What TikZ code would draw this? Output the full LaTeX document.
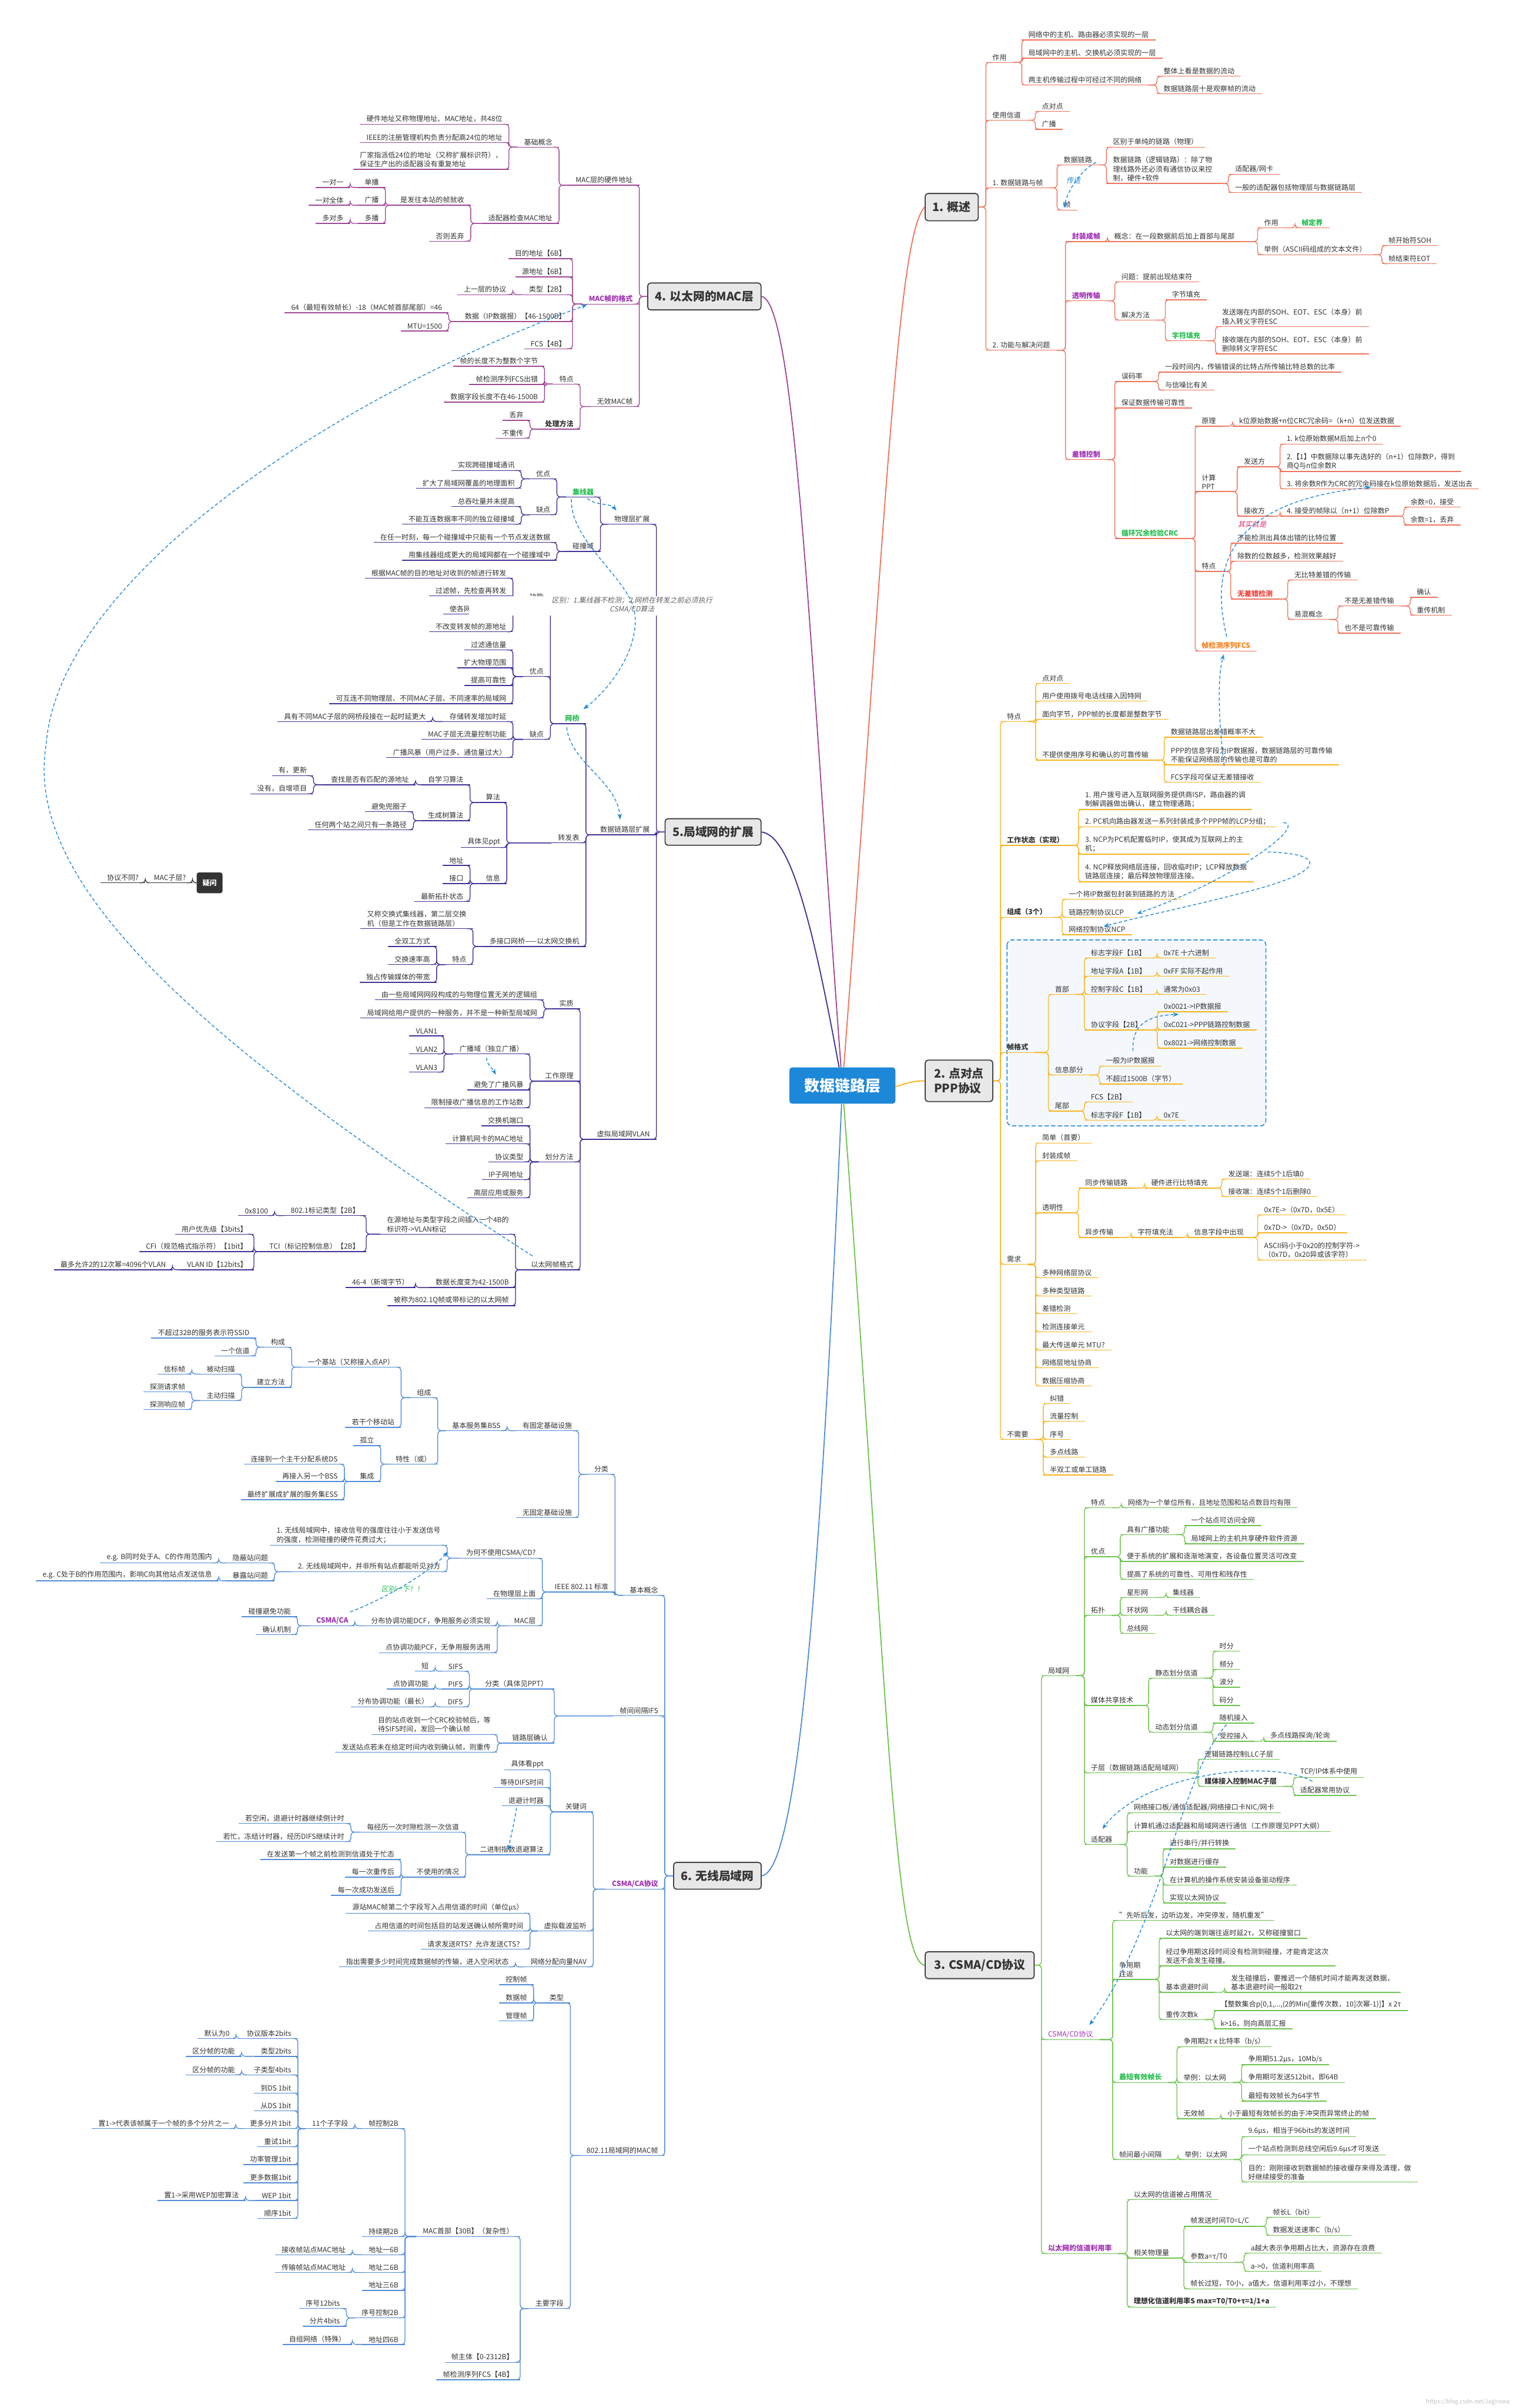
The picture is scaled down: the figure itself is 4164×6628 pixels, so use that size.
\documentclass[tikz,border=0pt]{standalone}
\usepackage{fontspec}
\setmainfont{Noto Sans CJK SC}
\newfontfamily\slfont{Noto Sans CJK SC}[FakeSlant=0.2]
\usetikzlibrary{arrows.meta}
\pgfdeclarelayer{bg}
\pgfsetlayers{bg,main}
\definecolor{tc}{RGB}{51,51,51}
\definecolor{s1}{RGB}{240,115,90}
\definecolor{s2}{RGB}{250,180,30}
\definecolor{s3}{RGB}{110,195,80}
\definecolor{s4}{RGB}{160,70,150}
\definecolor{s5}{RGB}{60,50,150}
\definecolor{s6}{RGB}{80,140,215}
\definecolor{cpur}{RGB}{160,50,180}
\definecolor{cgrn}{RGB}{40,190,80}
\definecolor{cred}{RGB}{240,70,60}
\definecolor{corg}{RGB}{245,130,30}
\definecolor{cblue}{RGB}{30,136,216}
\definecolor{cpink}{RGB}{214,51,108}
\definecolor{cgray}{RGB}{100,100,100}
\definecolor{boxd}{RGB}{68,68,68}
\definecolor{boxf}{RGB}{232,232,232}
\definecolor{pbg}{RGB}{244,248,253}
\colorlet{sc}{tc}
\newcommand\leaffont{\fontsize{19.5}{25}\selectfont}
\newcommand\secfont{\fontsize{32}{40}\selectfont\bfseries}
\newcommand\ctrfont{\fontsize{42}{50}\selectfont\bfseries}
\newcommand\RNd[6][]{\node[rn,#1] (#2) at (#4,#5) {#6};\draw[ul] (#2.south west) -- (#2.south east);\draw[cn] (#3.south east) -- (#3.south east -| #2.south west) |- ([xshift=16pt]#2.south west);}
\newcommand\LNd[6][]{\node[lnd,#1] (#2) at (#4,#5) {#6};\draw[ul] (#2.south west) -- (#2.south east);\draw[cn] (#3.south west) -- (#3.south west -| #2.south east) |- ([xshift=-16pt]#2.south east);}
\begin{document}
\begin{tikzpicture}[x=1pt,y=-1pt,
 rn/.style={anchor=south west,inner xsep=18pt,inner ysep=5pt,font=\leaffont,text=tc,align=left},
 lnd/.style={anchor=south east,inner xsep=18pt,inner ysep=5pt,font=\leaffont,text=tc,align=left},
 ul/.style={draw=sc,line width=2.2pt},
 cn/.style={draw=sc,line width=2.2pt,rounded corners=10pt},
 bfs/.style={font=\leaffont\bfseries},
 pur/.style={font=\leaffont\bfseries,text=cpur},
 purn/.style={text=cpur},
 grn/.style={font=\leaffont\bfseries,text=cgrn},
 rdb/.style={font=\leaffont\bfseries,text=cred},
 orb/.style={font=\leaffont\bfseries,text=corg},
 secbox/.style={draw=boxd,fill=boxf,line width=3pt,rounded corners=8pt,font=\secfont,text=tc,align=left,inner sep=0pt},
 dsh/.style={draw=cblue,line width=2.2pt,dash pattern=on 9pt off 6pt,-{Stealth[length=16pt,width=12pt]}},
 dotn/.style={inner sep=0pt,minimum size=0pt,outer sep=0pt},
 lbl/.style={font={\slfont\leaffont},inner sep=2pt}
]
\useasboundingbox (0,0) rectangle (4164,6628);
\begin{pgfonlayer}{bg}
\fill[white] (0,0) rectangle (4164,6628);
\draw[draw=cblue,fill=pbg,line width=2.5pt,dash pattern=on 12pt off 6pt,rounded corners=15pt] (2772,2587) rectangle (3485,3099);
\end{pgfonlayer}

% ===== centre =====
\node[fill=cblue,text=white,font=\ctrfont,rounded corners=8pt,minimum width=292pt,minimum height=100pt] (ctr) at (2319,2988) {数据链路层};

% ===== Section 1 =====
\begin{scope}
\colorlet{sc}{s1}
\node[secbox,minimum width=146pt,minimum height=75pt] (b1) at (2620,570) {1. 概述};
\node[dotn] (b1p) at (b1.east) {};
\RNd{a1}{b1p}{2714}{172}{作用}
\RNd{a11}{a1}{2813}{110}{网络中的主机、路由器必须实现的一层}
\RNd{a12}{a1}{2813}{160}{局域网中的主机、交换机必须实现的一层}
\RNd{a13}{a1}{2813}{234}{两主机传输过程中可经过不同的网络}
\RNd{a131}{a13}{3185}{210}{整体上看是数据的流动}
\RNd{a132}{a13}{3185}{258}{数据链路层十是观察帧的流动}
\RNd{a2}{b1p}{2714}{331}{使用信道}
\RNd{a21}{a2}{2850}{307}{点对点}
\RNd{a22}{a2}{2850}{356}{广播}
\RNd{a3}{b1p}{2714}{517}{1. 数据链路与帧}
\RNd{a31}{a3}{2910}{454}{数据链路}
\RNd{a311}{a31}{3046}{405}{区别于单纯的链路（物理）}
\RNd{a312}{a31}{3046}{505}{数据链路（逻辑链路）：除了物\\理线路外还必须有通信协议来控\\制，硬件+软件}
\RNd{a3121}{a312}{3382}{480}{适配器/网卡}
\RNd{a3122}{a312}{3382}{530}{一般的适配器包括物理层与数据链路层}
\RNd{a32}{a3}{2910}{578}{帧}
\RNd{a4}{b1p}{2714}{964}{2. 功能与解决问题}
\RNd[pur]{a41}{a4}{2933}{665}{封装成帧}
\RNd{a411}{a41}{3049}{665}{概念：在一段数据前后加上首部与尾部}
\RNd{a4111}{a411}{3462}{627}{作用}
\RNd[grn]{a41111}{a4111}{3565}{627}{帧定界}
\RNd{a4112}{a411}{3462}{701}{举例（ASCII码组成的文本文件）}
\RNd{a41121}{a4112}{3804}{676}{帧开始符SOH}
\RNd{a41122}{a4112}{3804}{726}{帧结束符EOT}
\RNd[pur]{a42}{a4}{2933}{828}{透明传输}
\RNd{a421}{a42}{3069}{776}{问题：提前出现结束符}
\RNd{a422}{a42}{3069}{881}{解决方法}
\RNd{a4221}{a422}{3208}{825}{字节填充}
\RNd[grn]{a4222}{a422}{3208}{938}{字符填充}
\RNd{a42221}{a4222}{3346}{899}{发送端在内部的SOH、EOT、ESC（本身）前\\插入转义字符ESC}
\RNd{a42222}{a4222}{3346}{974}{接收端在内部的SOH、EOT、ESC（本身）前\\删除转义字符ESC}
\RNd[pur]{a43}{a4}{2933}{1265}{差错控制}
\RNd{a431}{a43}{3069}{1050}{误码率}
\RNd{a4311}{a431}{3189}{1024}{一段时间内，传输错误的比特占所传输比特总数的比率}
\RNd{a4312}{a431}{3189}{1074}{与信噪比有关}
\RNd{a432}{a43}{3069}{1123}{保证数据传输可靠性}
\RNd[grn]{a433}{a43}{3069}{1482}{循环冗余检验CRC}
\RNd{c1}{a433}{3290}{1173}{原理}
\RNd{c11}{c1}{3393}{1173}{k位原始数据+n位CRC冗余码=（k+n）位发送数据}
\RNd{c2}{a433}{3290}{1353}{计算\\PPT}
\RNd{c21}{c2}{3406}{1285}{发送方}
\RNd{c211}{c21}{3524}{1222}{1. k位原始数据M后加上n个0}
\RNd{c212}{c21}{3524}{1298}{2.【1】中数据除以事先选好的（n+1）位除数P，得到\\商Q与n位余数R}
\RNd{c213}{c21}{3524}{1346}{3. 将余数R作为CRC的冗余码接在k位原始数据后，发送出去}
\RNd{c22}{c2}{3406}{1421}{接收方}
\RNd{c221}{c22}{3524}{1421}{4. 接受的帧除以（n+1）位除数P}
\RNd{c2211}{c221}{3865}{1396}{余数=0，接受}
\RNd{c2212}{c221}{3865}{1445}{余数=1，丢弃}
\RNd{c3}{a433}{3290}{1573}{特点}
\RNd{c31}{c3}{3388}{1495}{不能检测出具体出错的比特位置}
\RNd{c32}{c3}{3388}{1545}{除数的位数越多，检测效果越好}
\RNd[rdb]{c33}{c3}{3388}{1649}{无差错检测}
\RNd{c331}{c33}{3545}{1596}{无比特差错的传输}
\RNd{c332}{c33}{3545}{1705}{易混概念}
\RNd{c3321}{c332}{3683}{1668}{不是无差错传输}
\RNd{c33211}{c3321}{3882}{1644}{确认}
\RNd{c33212}{c3321}{3882}{1693}{重传机制}
\RNd{c3322}{c332}{3683}{1743}{也不是可靠传输}
\RNd[orb]{c4}{a433}{3290}{1792}{帧检测序列FCS}
\end{scope}

% ===== Section 2 =====
\begin{scope}
\colorlet{sc}{s2}
\node[secbox,minimum width=186pt,minimum height=114pt] (b2) at (2640,2975) {2. 点对点\\PPP协议};
\node[dotn] (b2p) at (b2.east) {};
\RNd{p1}{b2p}{2754}{1986}{特点}
\RNd{p11}{p1}{2851}{1881}{点对点}
\RNd{p12}{p1}{2851}{1930}{用户使用拨号电话线接入因特网}
\RNd{p13}{p1}{2851}{1980}{面向字节，PPP帧的长度都是整数字节}
\RNd{p14}{p1}{2851}{2092}{不提供使用序号和确认的可靠传输}
\RNd{p141}{p14}{3205}{2029}{数据链路层出差错概率不大}
\RNd{p142}{p14}{3205}{2105}{PPP的信息字段为IP数据报，数据链路层的可靠传输\\不能保证网络层的传输也是可靠的}
\RNd{p143}{p14}{3205}{2153}{FCS字段可保证无差错接收}
\RNd[bfs]{p2}{b2p}{2754}{2327}{工作状态（实现）}
\RNd{p21}{p2}{2969}{2228}{1. 用户拨号进入互联网服务提供商ISP，路由器的调\\制解调器做出确认，建立物理通路；}
\RNd{p22}{p2}{2969}{2276}{2. PC机向路由器发送一系列封装成多个PPP帧的LCP分组；}
\RNd{p23}{p2}{2969}{2351}{3. NCP为PC机配置临时IP，使其成为互联网上的主\\机；}
\RNd{p24}{p2}{2969}{2427}{4. NCP释放网络层连接，回收临时IP；LCP释放数据\\链路层连接；最后释放物理层连接。}
\RNd[bfs]{p3}{b2p}{2754}{2525}{组成（3个）}
\RNd{p31}{p3}{2924}{2475}{一个将IP数据包封装到链路的方法}
\RNd{p32}{p3}{2924}{2525}{链路控制协议LCP}
\RNd{p33}{p3}{2924}{2573}{网络控制协议NCP}
\RNd[bfs]{p4}{b2p}{2754}{2897}{帧格式}
\RNd{p41}{p4}{2886}{2737}{首部}
\RNd{p411}{p41}{2985}{2637}{标志字段F【1B】}
\RNd{p4111}{p411}{3185}{2637}{0x7E 十六进制}
\RNd{p412}{p41}{2985}{2687}{地址字段A【1B】}
\RNd{p4121}{p412}{3185}{2687}{0xFF 实际不起作用}
\RNd{p413}{p41}{2985}{2737}{控制字段C【1B】}
\RNd{p4131}{p413}{3185}{2737}{通常为0x03}
\RNd{p414}{p41}{2985}{2835}{协议字段【2B】}
\RNd{p4141}{p414}{3186}{2785}{0x0021->IP数据报}
\RNd{p4142}{p414}{3186}{2835}{0xC021->PPP链路控制数据}
\RNd{p4143}{p414}{3186}{2885}{0x8021->网络控制数据}
\RNd{p42}{p4}{2886}{2959}{信息部分}
\RNd{p421}{p42}{3026}{2934}{一般为IP数据报}
\RNd{p422}{p42}{3026}{2984}{不超过1500B（字节）}
\RNd{p43}{p4}{2886}{3058}{尾部}
\RNd{p431}{p43}{2985}{3033}{FCS【2B】}
\RNd{p432}{p43}{2985}{3083}{标志字段F【1B】}
\RNd{p4321}{p432}{3185}{3083}{0x7E}
\RNd{p5}{b2p}{2754}{3480}{需求}
\RNd{p51}{p5}{2851}{3146}{简单（首要）}
\RNd{p52}{p5}{2851}{3195}{封装成帧}
\RNd{p53}{p5}{2851}{3338}{透明性}
\RNd{p531}{p53}{2969}{3270}{同步传输链路}
\RNd{p5311}{p531}{3151}{3270}{硬件进行比特填充}
\RNd{p53111}{p5311}{3363}{3245}{发送端：连续5个1后填0}
\RNd{p53112}{p5311}{3363}{3294}{接收端：连续5个1后删除0}
\RNd{p532}{p53}{2969}{3406}{异步传输}
\RNd{p5321}{p532}{3114}{3406}{字符填充法}
\RNd{p5322}{p5321}{3269}{3406}{信息字段中出现}
\RNd{p53221}{p5322}{3462}{3344}{0x7E->（0x7D，0x5E）}
\RNd{p53222}{p5322}{3462}{3393}{0x7D->（0x7D，0x5D）}
\RNd{p53223}{p5322}{3462}{3468}{ASCII码小于0x20的控制字符->\\（0x7D，0x20异或该字符）}
\RNd{p54}{p5}{2851}{3517}{多种网络层协议}
\RNd{p55}{p5}{2851}{3567}{多种类型链路}
\RNd{p56}{p5}{2851}{3616}{差错检测}
\RNd{p57}{p5}{2851}{3666}{检测连接单元}
\RNd{p58}{p5}{2851}{3716}{最大传送单元 MTU?}
\RNd{p59}{p5}{2851}{3765}{网络层地址协商}
\RNd{p5a}{p5}{2851}{3815}{数据压缩协商}
\RNd{p6}{b2p}{2754}{3962}{不需要}
\RNd{p61}{p6}{2872}{3863}{纠错}
\RNd{p62}{p6}{2872}{3912}{流量控制}
\RNd{p63}{p6}{2872}{3962}{序号}
\RNd{p64}{p6}{2872}{4011}{多点线路}
\RNd{p65}{p6}{2872}{4060}{半双工或单工链路}
\end{scope}

% ===== Section 3 =====
\begin{scope}
\colorlet{sc}{s3}
\node[secbox,minimum width=300pt,minimum height=74pt] (b3) at (2697,5409) {3. CSMA/CD协议};
\node[dotn] (b3p) at (b3.east) {};
\RNd{q1}{b3p}{2867}{4612}{局域网}
\RNd{q11}{q1}{2985}{4150}{特点}
\RNd{q111}{q11}{3087}{4150}{网络为一个单位所有，且地址范围和站点数目均有限}
\RNd{q12}{q1}{2985}{4285}{优点}
\RNd{q121}{q12}{3084}{4224}{具有广播功能}
\RNd{q1211}{q121}{3261}{4199}{一个站点可访问全网}
\RNd{q1212}{q121}{3261}{4249}{局域网上的主机共享硬件软件资源}
\RNd{q122}{q12}{3084}{4298}{便于系统的扩展和逐渐地演变，各设备位置灵活可改变}
\RNd{q123}{q12}{3084}{4347}{提高了系统的可靠性、可用性和残存性}
\RNd{q13}{q1}{2985}{4446}{拓扑}
\RNd{q131}{q13}{3084}{4397}{星形网}
\RNd{q1311}{q131}{3210}{4397}{集线器}
\RNd{q132}{q13}{3084}{4446}{环状网}
\RNd{q1321}{q132}{3210}{4446}{干线耦合器}
\RNd{q133}{q13}{3084}{4496}{总线网}
\RNd{q14}{q1}{2985}{4694}{媒体共享技术}
\RNd{q141}{q14}{3162}{4619}{静态划分信道}
\RNd{q1411}{q141}{3339}{4545}{时分}
\RNd{q1412}{q141}{3339}{4595}{频分}
\RNd{q1413}{q141}{3339}{4644}{波分}
\RNd{q1414}{q141}{3339}{4694}{码分}
\RNd{q142}{q14}{3162}{4768}{动态划分信道}
\RNd{q1421}{q142}{3339}{4743}{随机接入}
\RNd{q1422}{q142}{3339}{4793}{受控接入}
\RNd{q14221}{q1422}{3479}{4793}{多点线路探询/轮询}
\RNd{q15}{q1}{2985}{4880}{子层（数据链路适配局域网）}
\RNd{q151}{q15}{3298}{4842}{逻辑链路控制LLC子层}
\RNd[bfs]{q152}{q15}{3298}{4917}{媒体接入控制MAC子层}
\RNd{q1521}{q152}{3561}{4892}{TCP/IP体系中使用}
\RNd{q1522}{q152}{3561}{4942}{适配器常用协议}
\RNd{q16}{q1}{2985}{5077}{适配器}
\RNd{q161}{q16}{3103}{4990}{网络接口板/通信适配器/网络接口卡NIC/网卡}
\RNd{q162}{q16}{3103}{5041}{计算机通过适配器和局域网进行通信（工作原理见PPT大纲）}
\RNd{q163}{q16}{3103}{5164}{功能}
\RNd{q1631}{q163}{3202}{5089}{进行串行/并行转换}
\RNd{q1632}{q163}{3202}{5139}{对数据进行缓存}
\RNd{q1633}{q163}{3202}{5189}{在计算机的操作系统安装设备驱动程序}
\RNd{q1634}{q163}{3202}{5238}{实现以太网协议}
\RNd[purn]{q2}{b3p}{2867}{5614}{CSMA/CD协议}
\RNd{q21}{q2}{3063}{5286}{"先听后发，边听边发，冲突停发，随机重发"}
\RNd{q22}{q2}{3063}{5448}{争用期\\往返}
\RNd{q221}{q22}{3191}{5335}{以太网的端到端往返时延2τ，又称碰撞窗口}
\RNd{q222}{q22}{3191}{5411}{经过争用期这段时间没有检测到碰撞，才能肯定这次\\发送不会发生碰撞。}
\RNd{q223}{q22}{3191}{5484}{基本退避时间}
\RNd{q2231}{q223}{3371}{5484}{发生碰撞后，要推迟一个随机时间才能再发送数据，\\基本退避时间一般取2τ}
\RNd{q224}{q22}{3191}{5559}{重传次数k}
\RNd{q2241}{q224}{3342}{5534}{【整数集合p[0,1,...,(2的Min[重传次数，10]次幂-1)]】x 2τ}
\RNd{q2242}{q224}{3342}{5584}{k>16，则向高层汇报}
\RNd[grn]{q23}{q2}{3063}{5732}{最短有效帧长}
\RNd{q231}{q23}{3240}{5634}{争用期2τ x 比特率（b/s）}
\RNd{q232}{q23}{3240}{5732}{举例：以太网}
\RNd{q2321}{q232}{3418}{5683}{争用期51.2μs，10Mb/s}
\RNd{q2322}{q232}{3418}{5732}{争用期可发送512bit，即64B}
\RNd{q2323}{q232}{3418}{5783}{最短有效帧长为64字节}
\RNd{q233}{q23}{3240}{5832}{无效帧}
\RNd{q2331}{q233}{3361}{5832}{小于最短有效帧长的由于冲突而异常终止的帧}
\RNd{q24}{q2}{3063}{5944}{帧间最小间隔}
\RNd{q241}{q24}{3243}{5944}{举例：以太网}
\RNd{q2411}{q241}{3418}{5881}{9.6μs，相当于96bits的发送时间}
\RNd{q2412}{q241}{3418}{5931}{一个站点检测到总线空闲后9.6μs才可发送}
\RNd{q2413}{q241}{3418}{6006}{目的：刚刚接收到数据帧的接收缓存来得及清理，做\\好继续接受的准备}
\RNd[pur]{q3}{b3p}{2867}{6203}{以太网的信道利用率}
\RNd{q31}{q3}{3103}{6054}{以太网的信道被占用情况}
\RNd{q32}{q3}{3103}{6215}{相关物理量}
\RNd{q321}{q32}{3259}{6128}{帧发送时间T0=L/C}
\RNd{q3211}{q321}{3486}{6103}{帧长L（bit）}
\RNd{q3212}{q321}{3486}{6153}{数据发送速率C（b/s）}
\RNd{q322}{q32}{3259}{6227}{参数a=τ/T0}
\RNd{q3221}{q322}{3425}{6202}{a越大表示争用期占比大，资源存在浪费}
\RNd{q3222}{q322}{3425}{6252}{a->0，信道利用率高}
\RNd{q323}{q32}{3259}{6300}{帧长过短，T0小，a值大，信道利用率过小，不理想}
\RNd[bfs]{q33}{q3}{3103}{6350}{理想化信道利用率S max=T0/T0+τ=1/1+a}
\end{scope}

% ===== Section 4 =====
\begin{scope}
\colorlet{sc}{s4}
\node[secbox,minimum width=312pt,minimum height=74pt] (b4) at (1939,816) {4. 以太网的MAC层};
\node[dotn] (b4p) at (b4.west) {};
\LNd{m1}{b4p}{1760}{510}{MAC层的硬件地址}
\LNd{m11}{m1}{1539}{405}{基础概念}
\LNd{m111}{m11}{1401}{342}{硬件地址又称物理地址、MAC地址，共48位}
\LNd{m112}{m11}{1401}{392}{IEEE的注册管理机构负责分配高24位的地址}
\LNd{m113}{m11}{1401}{466}{厂家指派低24位的地址（又称扩展标识符），\\保证生产出的适配器没有重复地址}
\LNd{m12}{m1}{1539}{615}{适配器检查MAC地址}
\LNd{m121}{m12}{1296}{565}{是发往本站的帧就收}
\LNd{m1211}{m121}{1061}{516}{单播}
\LNd{m12111}{m1211}{964}{516}{一对一}
\LNd{m1212}{m121}{1061}{565}{广播}
\LNd{m12121}{m1212}{964}{565}{一对全体}
\LNd{m1213}{m121}{1061}{615}{多播}
\LNd{m12131}{m1213}{964}{615}{多对多}
\LNd{m122}{m12}{1296}{664}{否则丢弃}
\LNd[pur]{m2}{b4p}{1760}{837}{MAC帧的格式}
\LNd{m21}{m2}{1576}{712}{目的地址【6B】}
\LNd{m22}{m2}{1576}{762}{源地址【6B】}
\LNd{m23}{m2}{1576}{811}{类型【2B】}
\LNd{m231}{m23}{1412}{811}{上一层的协议}
\LNd{m24}{m2}{1576}{885}{数据（IP数据报）【46-1500B】}
\LNd{m241}{m24}{1235}{861}{64（最短有效帧长）-18（MAC帧首部尾部）=46}
\LNd{m242}{m24}{1235}{911}{MTU=1500}
\LNd{m25}{m2}{1576}{960}{FCS【4B】}
\LNd{m3}{b4p}{1760}{1119}{无效MAC帧}
\LNd{m31}{m3}{1597}{1057}{特点}
\LNd{m311}{m31}{1499}{1008}{帧的长度不为整数个字节}
\LNd{m312}{m31}{1499}{1058}{帧检测序列FCS出错}
\LNd{m313}{m31}{1499}{1107}{数据字段长度不在46-1500B}
\LNd[bfs]{m32}{m3}{1597}{1181}{处理方法}
\LNd{m321}{m32}{1459}{1157}{丢弃}
\LNd{m322}{m32}{1459}{1206}{不重传}
\end{scope}

% ===== question box =====
\begin{scope}
\colorlet{sc}{tc}
\node[fill=tc,text=white,font=\leaffont\bfseries,rounded corners=6pt,minimum width=71pt,minimum height=57pt,inner sep=2pt] (yw) at (577,2430) {疑问};
\node[dotn] (ywp) at (yw.west) {};
\LNd{yw1}{ywp}{530}{2430}{MAC子层?}
\LNd{yw2}{yw1}{400}{2430}{协议不同?}
\end{scope}

% ===== Section 5 =====
\begin{scope}
\colorlet{sc}{s5}
\node[secbox,minimum width=264pt,minimum height=73pt] (b5) at (1963,2290) {5.局域网的扩展};
\node[dotn] (b5p) at (b5.west) {};
\LNd{n1}{b5p}{1807}{1443}{物理层扩展}
\LNd[grn]{n11}{n1}{1653}{1368}{集线器}
\LNd{n111}{n11}{1533}{1318}{优点}
\LNd{n1111}{n111}{1435}{1295}{实现跨碰撞域通讯}
\LNd{n1112}{n111}{1435}{1344}{扩大了局域网覆盖的地理面积}
\LNd{n112}{n11}{1533}{1417}{缺点}
\LNd{n1121}{n112}{1435}{1394}{总吞吐量并未提高}
\LNd{n1122}{n112}{1435}{1443}{不能互连数据率不同的独立碰撞域}
\LNd{n12}{n1}{1653}{1518}{碰撞域}
\LNd{n121}{n12}{1533}{1493}{在任一时刻，每一个碰撞域中只能有一个节点发送数据}
\LNd{n122}{n12}{1533}{1542}{用集线器组成更大的局域网都在一个碰撞域中}
\LNd{n2}{b5p}{1807}{2298}{数据链路层扩展}
\LNd[grn]{n21}{n2}{1613}{1992}{网桥}
\LNd{n211}{n21}{1515}{1656}{功能}
\LNd{n2111}{n211}{1412}{1591}{根据MAC帧的目的地址对收到的帧进行转发}
\LNd{n2112}{n211}{1412}{1640}{过滤帧，先检查再转发}
\LNd{n2113}{n211}{1412}{1690}{使各网段成为隔离}
\LNd{n2114}{n211}{1412}{1739}{不改变转发帧的源地址}
\LNd{n212}{n21}{1515}{1862}{优点}
\LNd{n2121}{n212}{1412}{1789}{过滤通信量}
\LNd{n2122}{n212}{1412}{1838}{扩大物理范围}
\LNd{n2123}{n212}{1412}{1887}{提高可靠性}
\LNd{n2124}{n212}{1412}{1937}{可互连不同物理层、不同MAC子层、不同速率的局域网}
\LNd{n213}{n21}{1515}{2035}{缺点}
\LNd{n2131}{n213}{1412}{1986}{存储转发增加时延}
\LNd{n21311}{n2131}{1191}{1986}{具有不同MAC子层的网桥段接在一起时延更大}
\LNd{n2132}{n213}{1412}{2035}{MAC子层无流量控制功能}
\LNd{n2133}{n213}{1412}{2085}{广播风暴（用户过多、通信量过大）}
\LNd{n22}{n2}{1613}{2320}{转发表}
\LNd{n221}{n22}{1395}{2209}{算法}
\LNd{n2211}{n221}{1294}{2160}{自学习算法}
\LNd{n22111}{n2211}{1144}{2160}{查找是否有匹配的源地址}
\LNd{n221111}{n22111}{863}{2135}{有，更新}
\LNd{n221112}{n22111}{863}{2185}{没有，自增项目}
\LNd{n2212}{n221}{1294}{2259}{生成树算法}
\LNd{n22121}{n2212}{1138}{2234}{避免兜圈子}
\LNd{n22122}{n2212}{1138}{2284}{任何两个站之间只有一条路径}
\LNd{n222}{n22}{1395}{2333}{具体见ppt}
\LNd{n223}{n22}{1395}{2432}{信息}
\LNd{n2231}{n223}{1294}{2382}{地址}
\LNd{n2232}{n223}{1294}{2432}{接口}
\LNd{n2233}{n223}{1294}{2481}{最新拓扑状态}
\LNd{n23}{n2}{1613}{2605}{多接口网桥——以太网交换机}
\LNd{n231}{n23}{1302}{2556}{又称交换式集线器，第二层交换\\机（但是工作在数据链路层）}
\LNd{n232}{n23}{1302}{2655}{特点}
\LNd{n2321}{n232}{1202}{2605}{全双工方式}
\LNd{n2322}{n232}{1202}{2655}{交换速率高}
\LNd{n2323}{n232}{1202}{2704}{独占传输媒体的带宽}
\LNd{n3}{b5p}{1807}{3136}{虚拟局域网VLAN}
\LNd{n31}{n3}{1597}{2777}{实质}
\LNd{n311}{n31}{1497}{2752}{由一些局域网网段构成的与物理位置无关的逻辑组}
\LNd{n312}{n31}{1497}{2802}{局域网给用户提供的一种服务，并不是一种新型局域网}
\LNd{n32}{n3}{1597}{2976}{工作原理}
\LNd{n321}{n32}{1459}{2901}{广播域（独立广播）}
\LNd{n3211}{n321}{1222}{2851}{VLAN1}
\LNd{n3212}{n321}{1222}{2901}{VLAN2}
\LNd{n3213}{n321}{1222}{2951}{VLAN3}
\LNd{n322}{n32}{1459}{3000}{避免了广播风暴}
\LNd{n323}{n32}{1459}{3049}{限制接收广播信息的工作站数}
\LNd{n33}{n3}{1597}{3198}{划分方法}
\LNd{n331}{n33}{1459}{3099}{交换机端口}
\LNd{n332}{n33}{1459}{3148}{计算机网卡的MAC地址}
\LNd{n333}{n33}{1459}{3198}{协议类型}
\LNd{n334}{n33}{1459}{3247}{IP子网地址}
\LNd{n335}{n33}{1459}{3297}{高层应用或服务}
\LNd{n34}{n3}{1597}{3495}{以太网帧格式}
\LNd{n341}{n34}{1419}{3397}{在源地址与类型字段之间插入一个4B的\\标识符->VLAN标记}
\LNd{n3411}{n341}{1008}{3346}{802.1标记类型【2B】}
\LNd{n34111}{n3411}{756}{3346}{0x8100}
\LNd{n3412}{n341}{1008}{3445}{TCI（标记控制信息）【2B】}
\LNd{n34121}{n3412}{699}{3397}{用户优先级【3bits】}
\LNd{n34122}{n3412}{699}{3445}{CFI（规范格式指示符）【1bit】}
\LNd{n34123}{n3412}{699}{3495}{VLAN ID【12bits】}
\LNd{n341231}{n34123}{475}{3495}{最多允许2的12次幂=4096个VLAN}
\LNd{n342}{n34}{1419}{3544}{数据长度变为42-1500B}
\LNd{n3421}{n342}{1144}{3544}{46-4（新增字节）}
\LNd{n343}{n34}{1419}{3594}{被称为802.1Q帧或带标记的以太网帧}
\end{scope}

% ===== Section 6 =====
\begin{scope}
\colorlet{sc}{s6}
\node[secbox,minimum width=241pt,minimum height=74pt] (b6) at (1975,5163) {6. 无线局域网};
\node[dotn] (b6p) at (b6.west) {};
\LNd{w1}{b6p}{1830}{4391}{基本概念}
\LNd{w11}{w1}{1693}{4058}{分类}
\LNd{w111}{w11}{1593}{3938}{有固定基础设施}
\LNd{w1111}{w111}{1396}{3938}{基本服务集BSS}
\LNd{w11111}{w1111}{1205}{3847}{组成}
\LNd{wa0}{w11111}{1104}{3763}{一个基站（又称接入点AP）}
\LNd{wa}{wa0}{803}{3708}{构成}
\LNd{wa1}{wa}{705}{3683}{不超过32B的服务表示符SSID}
\LNd{wa2}{wa}{705}{3732}{一个信道}
\LNd{wb}{wa0}{803}{3819}{建立方法}
\LNd{wb1}{wb}{665}{3782}{被动扫描}
\LNd{wb11}{wb1}{528}{3782}{信标帧}
\LNd{wb2}{wb}{665}{3855}{主动扫描}
\LNd{wb21}{wb2}{528}{3831}{探测请求帧}
\LNd{wb22}{wb2}{528}{3880}{探测响应帧}
\LNd{wc}{w11111}{1104}{3929}{若干个移动站}
\LNd{w11112}{w1111}{1205}{4030}{特性（或）}
\LNd{wd1}{w11112}{1048}{3979}{孤立}
\LNd{wd2}{w11112}{1048}{4078}{集成}
\LNd{wd21}{wd2}{948}{4030}{连接到一个主干分配系统DS}
\LNd{wd22}{wd2}{948}{4078}{再接入另一个BSS}
\LNd{wd23}{wd2}{948}{4128}{最终扩展成扩展的服务集ESS}
\LNd{w112}{w11}{1593}{4177}{无固定基础设施}
\LNd{w12}{w1}{1693}{4382}{IEEE 802.11 标准}
\LNd{w121}{w12}{1493}{4289}{为何不使用CSMA/CD?}
\LNd{w1211}{w121}{1231}{4253}{1. 无线局域网中，接收信号的强度往往小于发送信号\\的强度，检测碰撞的硬件花费过大；}
\LNd{w1212}{w121}{1231}{4326}{2. 无线局域网中，并非所有站点都能听见对方}
\LNd{w12121}{w1212}{756}{4302}{隐蔽站问题}
\LNd{w121211}{w12121}{602}{4302}{e.g. B同时处于A、C的作用范围内}
\LNd{w12122}{w1212}{756}{4351}{暴露站问题}
\LNd{w121221}{w12122}{602}{4351}{e.g. C处于B的作用范围内，影响C向其他站点发送信息}
\LNd{w122}{w12}{1493}{4401}{在物理层上面}
\LNd{w123}{w12}{1493}{4475}{MAC层}
\LNd{w1231}{w123}{1369}{4475}{分布协调功能DCF，争用服务必须实现}
\LNd[pur]{w12311}{w1231}{977}{4475}{CSMA/CA}
\LNd{w123111}{w12311}{819}{4450}{碰撞避免功能}
\LNd{w123112}{w12311}{819}{4499}{确认机制}
\LNd{w1232}{w123}{1369}{4549}{点协调功能PCF，无争用服务选用}
\LNd{w2}{b6p}{1830}{4723}{帧间间隔IFS}
\LNd{w21}{w2}{1526}{4649}{分类（具体见PPT）}
\LNd{w211}{w21}{1292}{4600}{SIFS}
\LNd{w2111}{w211}{1198}{4600}{短}
\LNd{w212}{w21}{1292}{4649}{PIFS}
\LNd{w2121}{w212}{1198}{4649}{点协调功能}
\LNd{w213}{w21}{1292}{4698}{DIFS}
\LNd{w2131}{w213}{1198}{4698}{分布协调功能（最长）}
\LNd{w22}{w2}{1526}{4798}{链路层确认}
\LNd{w221}{w22}{1369}{4774}{目的站点收到一个CRC校验帧后，等\\待SIFS时间，发回一个确认帧}
\LNd{w222}{w22}{1369}{4823}{发送站点若未在给定时间内收到确认帧，则重传}
\LNd[pur]{w3}{b6p}{1830}{5200}{CSMA/CA协议}
\LNd{w31}{w3}{1633}{4987}{关键词}
\LNd{w311}{w31}{1515}{4871}{具体看ppt}
\LNd{w312}{w31}{1515}{4920}{等待DIFS时间}
\LNd{w313}{w31}{1515}{4970}{退避计时器}
\LNd{w314}{w31}{1515}{5105}{二进制指数退避算法}
\LNd{w3141}{w314}{1282}{5043}{每经历一次时隙检测一次信道}
\LNd{w31411}{w3141}{966}{5019}{若空闲，退避计时器继续倒计时}
\LNd{w31412}{w3141}{966}{5069}{若忙，冻结计时器，经历DIFS继续计时}
\LNd{w3142}{w314}{1282}{5167}{不使用的情况}
\LNd{w31421}{w3142}{1104}{5118}{在发送第一个帧之前检测到信道处于忙态}
\LNd{w31422}{w3142}{1104}{5167}{每一次重传后}
\LNd{w31423}{w3142}{1104}{5217}{每一次成功发送后}
\LNd{w32}{w3}{1633}{5315}{虚拟载波监听}
\LNd{w321}{w32}{1459}{5266}{源站MAC帧第二个字段写入占用信道的时间（单位μs）}
\LNd{w322}{w32}{1459}{5315}{占用信道的时间包括目的站发送确认帧所需时间}
\LNd{w323}{w32}{1459}{5365}{请求发送RTS？允许发送CTS？}
\LNd{w33}{w3}{1633}{5414}{网络分配向量NAV}
\LNd{w331}{w33}{1419}{5414}{指出需要多少时间完成数据帧的传输，进入空闲状态}
\LNd{w4}{b6p}{1830}{5933}{802.11局域网的MAC帧}
\LNd{w41}{w4}{1570}{5513}{类型}
\LNd{w411}{w41}{1469}{5463}{控制帧}
\LNd{w412}{w41}{1469}{5513}{数据帧}
\LNd{w413}{w41}{1469}{5562}{管理帧}
\LNd{w42}{w4}{1570}{6354}{主要字段}
\LNd{w421}{w42}{1432}{6156}{MAC首部【30B】（复杂性）}
\LNd{w4211}{w421}{1115}{5859}{帧控制2B}
\LNd{w42111}{w4211}{977}{5859}{11个子字段}
\LNd{x1}{w42111}{820}{5611}{协议版本2bits}
\LNd{x11}{x1}{650}{5611}{默认为0}
\LNd{x2}{w42111}{820}{5660}{类型2bits}
\LNd{x21}{x2}{665}{5660}{区分帧的功能}
\LNd{x3}{w42111}{820}{5711}{子类型4bits}
\LNd{x31}{x3}{665}{5711}{区分帧的功能}
\LNd{x4}{w42111}{820}{5761}{到DS 1bit}
\LNd{x5}{w42111}{820}{5810}{从DS 1bit}
\LNd{x6}{w42111}{820}{5859}{更多分片1bit}
\LNd{x61}{x6}{649}{5859}{置1->代表该帧属于一个帧的多个分片之一}
\LNd{x7}{w42111}{820}{5909}{重试1bit}
\LNd{x8}{w42111}{820}{5958}{功率管理1bit}
\LNd{x9}{w42111}{820}{6008}{更多数据1bit}
\LNd{xa}{w42111}{820}{6057}{WEP 1bit}
\LNd{xa1}{xa}{676}{6057}{置1->采用WEP加密算法}
\LNd{xb}{w42111}{820}{6106}{顺序1bit}
\LNd{w4212}{w421}{1115}{6156}{持续期2B}
\LNd{w4213}{w421}{1115}{6206}{地址一6B}
\LNd{w42131}{w4213}{970}{6206}{接收帧站点MAC地址}
\LNd{w4214}{w421}{1115}{6255}{地址二6B}
\LNd{w42141}{w4214}{970}{6255}{传输帧站点MAC地址}
\LNd{w4215}{w421}{1115}{6304}{地址三6B}
\LNd{w4216}{w421}{1115}{6380}{序号控制2B}
\LNd{w42161}{w4216}{954}{6354}{序号12bits}
\LNd{w42162}{w4216}{954}{6403}{分片4bits}
\LNd{w4217}{w421}{1115}{6453}{地址四6B}
\LNd{w42171}{w4217}{970}{6453}{自组网络（特殊）}
\LNd{w422}{w42}{1432}{6502}{帧主体【0-2312B】}
\LNd{w423}{w42}{1432}{6550}{帧检测序列FCS【4B】}
\end{scope}

% ===== centre curves =====
\begin{pgfonlayer}{bg}
\draw[s1,line width=3pt] (ctr) .. controls (2440,1400) and (2470,650) .. (b1.west);
\draw[s2,line width=3pt] (ctr) .. controls (2480,2990) and (2500,2975) .. (b2.west);
\draw[s3,line width=3pt] (ctr) .. controls (2440,4600) and (2460,5400) .. (b3.west);
\draw[s4,line width=3pt] (ctr) .. controls (2230,1800) and (2190,830) .. (b4.east);
\draw[s5,line width=3pt] (ctr) .. controls (2230,2500) and (2170,2300) .. (b5.east);
\draw[s6,line width=3pt] (ctr) .. controls (2260,4300) and (2200,5150) .. (b6.east);
\end{pgfonlayer}

% ===== annotation in section 5 =====
\fill[white] (1292,1640) rectangle (1968,1694);
\node[lbl,text=cgray,align=center] (lab5) at (1740,1665) {区别：1.集线器不检测；2.网桥在转发之前必须执行\\CSMA/CD算法};

% ===== labels =====
\node[lbl,text=cblue] (lab1) at (2955,496) {传送};
\node[lbl,text=cpink] (lab2) at (3447,1443) {其实就是};
\node[lbl,text=cgrn] (lab3) at (1108,4374) {区别一下！！};
\node[font=\fontsize{16}{18}\selectfont,text=black!25,anchor=east] (wm) at (4160,6611) {https://blog.csdn.net/Jagirowa};

% ===== dashed arrows =====
\draw[dsh] (3017,447) .. controls (2980,465) and (2940,520) .. (2929,572);
\draw[dsh] (3377,1752) .. controls (3330,1560) and (3380,1380) .. (3774,1341);
\draw[dsh] (3370,2108) .. controls (3350,1950) and (3355,1850) .. (3369,1801);
\draw[dsh] (3533,2264) .. controls (3600,2270) and (3400,2420) .. (3130,2515);
\draw[dsh] (3490,2345) .. controls (3660,2350) and (3640,2400) .. (3450,2450) .. controls (3300,2490) and (3150,2520) .. (3038,2550);
\draw[dsh] (3119,2893) .. controls (3115,2820) and (3160,2795) .. (3245,2792);
\draw[dsh] (3613,4903) .. controls (3500,4840) and (3150,4880) .. (3035,5034);
\draw[dsh] (3377,4747) .. controls (3250,4880) and (3200,5300) .. (2999,5574);
\draw[dsh] (1466,3457) .. controls (600,2900) and (60,2450) .. (127,2050) .. controls (160,1600) and (900,1100) .. (1616,839);
\draw[dsh] (1617,1372) .. controls (1640,1392) and (1680,1385) .. (1697,1405);
\draw[dsh] (1573,1374) .. controls (1570,1480) and (1700,1570) .. (1740,1660) .. controls (1775,1750) and (1700,1880) .. (1606,1952);
\draw[dsh] (1560,2002) .. controls (1570,2100) and (1700,2150) .. (1707,2256);
\draw[dsh] (1339,2911) .. controls (1340,2930) and (1355,2940) .. (1365,2958);
\draw[dsh] (964,4437) .. controls (1060,4400) and (1180,4330) .. (1233,4271);
\draw[dsh] (1422,4976) .. controls (1415,5020) and (1405,5060) .. (1399,5093);
\end{tikzpicture}
\end{document}
